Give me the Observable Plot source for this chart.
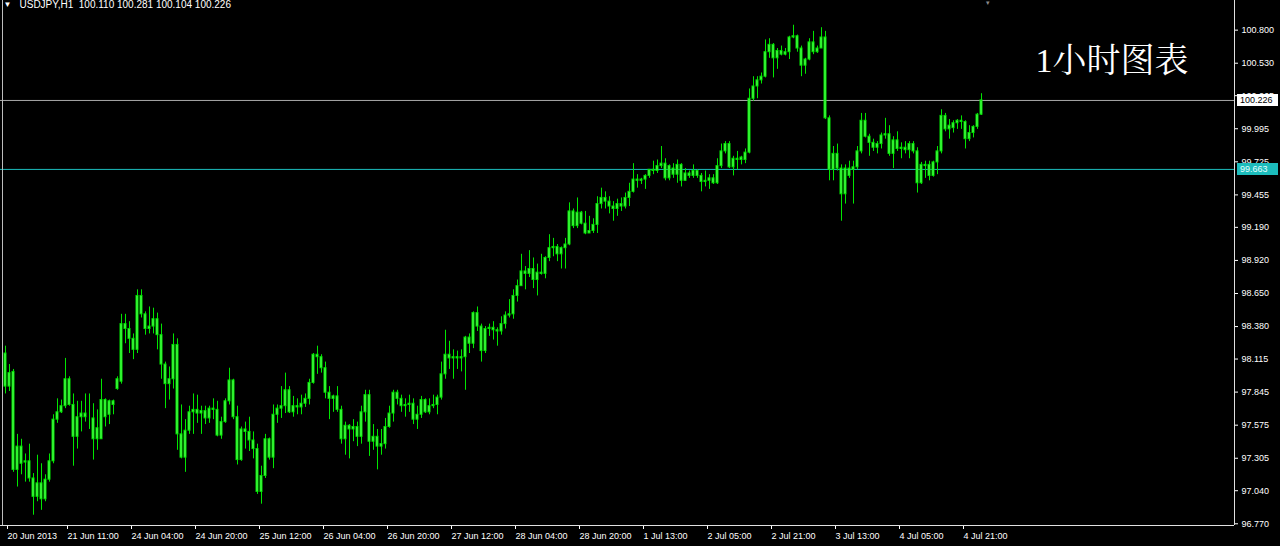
<!DOCTYPE html>
<html><head><meta charset="utf-8">
<script src="https://cdn.jsdelivr.net/npm/d3@7"></script>
<script src="https://cdn.jsdelivr.net/npm/@observablehq/plot@0.6"></script>
<style>
html,body{margin:0;padding:0;background:#000;overflow:hidden}
#chart svg{display:block}
</style></head><body><div id="chart"></div>
<script>
const symbol = "USDJPY,H1";
const titleText = "1小时图表";

const open = [
98.16,97.89,98.01,97.21,97.40,97.27,97.28,97.14,96.99,97.10,
96.97,97.13,97.28,97.62,97.68,97.73,97.95,97.74,97.48,97.64,
97.67,97.64,97.63,97.46,97.46,97.78,97.66,97.74,97.87,97.93,
98.40,98.36,98.28,98.19,98.63,98.48,98.36,98.38,98.44,98.31,
98.07,97.91,97.95,98.23,97.50,97.31,97.53,97.68,97.70,97.67,
97.69,97.63,97.71,97.70,97.49,97.60,97.77,97.94,97.64,97.29,
97.54,97.52,97.45,97.38,97.03,97.16,97.46,97.31,97.66,97.71,
97.73,97.86,97.68,97.73,97.72,97.75,97.79,97.92,98.15,98.13,
98.04,97.84,97.79,97.81,97.70,97.46,97.57,97.54,97.56,97.48,
97.68,97.82,97.44,97.48,97.40,97.42,97.56,97.67,97.84,97.79,
97.73,97.74,97.75,97.62,97.66,97.78,97.68,97.73,97.74,97.80,
97.99,98.15,98.12,98.13,98.12,98.13,98.29,98.24,98.49,98.38,
98.18,98.36,98.37,98.35,98.34,98.40,98.47,98.48,98.63,98.71,
98.83,98.81,98.85,98.76,98.82,98.81,98.94,99.02,99.03,98.97,
99.02,99.05,99.32,99.20,99.31,99.22,99.14,99.16,99.21,99.38,
99.43,99.40,99.36,99.34,99.38,99.36,99.43,99.48,99.58,99.57,
99.58,99.61,99.66,99.65,99.69,99.71,99.59,99.67,99.62,99.70,
99.57,99.63,99.61,99.65,99.61,99.56,99.57,99.59,99.55,99.69,
99.81,99.87,99.68,99.75,99.74,99.74,99.80,100.24,100.34,100.39,
100.42,100.62,100.68,100.57,100.63,100.60,100.62,100.74,100.75,100.65,
100.51,100.56,100.70,100.62,100.65,100.74,100.08,99.66,99.79,99.67,
99.46,99.67,99.66,99.68,99.81,100.06,99.93,99.88,99.84,99.87,
99.94,99.95,99.79,99.90,99.83,99.84,99.82,99.87,99.81,99.55,
99.70,99.70,99.61,99.72,99.81,100.10,99.99,100.00,100.04,100.06,
100.05,99.91,99.96,100.01,100.110];

const high = [
98.22,98.07,98.03,97.50,97.46,97.34,97.42,97.18,97.33,97.26,
97.17,97.34,97.66,97.79,97.78,98.12,97.97,97.83,97.77,97.77,
97.83,97.83,97.75,97.70,97.95,97.79,97.78,97.78,97.97,98.48,
98.48,98.42,98.32,98.68,98.68,98.50,98.54,98.53,98.49,98.40,
98.09,98.05,98.32,98.28,97.74,97.62,97.73,97.83,97.82,97.73,
97.73,97.73,97.79,97.77,97.64,97.79,98.04,97.95,97.73,97.56,
97.60,97.64,97.52,97.42,97.24,97.50,97.47,97.74,97.74,97.89,
98.00,97.89,97.81,97.79,97.82,97.83,97.95,98.16,98.22,98.15,
98.09,97.89,97.82,97.89,97.73,97.60,97.58,97.62,97.60,97.73,
97.86,97.86,97.58,97.54,97.54,97.63,97.73,97.86,97.86,97.82,
97.79,97.82,97.79,97.73,97.81,97.79,97.79,97.82,97.82,98.09,
98.35,98.26,98.19,98.18,98.19,98.30,98.32,98.50,98.54,98.40,
98.38,98.40,98.42,98.37,98.46,98.50,98.60,98.68,98.76,98.97,
98.87,99.00,98.94,98.89,98.97,98.95,99.13,99.10,99.05,99.03,
99.10,99.39,99.34,99.43,99.32,99.32,99.28,99.26,99.44,99.51,
99.48,99.44,99.40,99.42,99.43,99.47,99.55,99.71,99.62,99.59,
99.62,99.66,99.73,99.74,99.85,99.75,99.70,99.71,99.74,99.71,
99.67,99.65,99.70,99.66,99.63,99.65,99.62,99.62,99.75,99.87,
99.89,99.89,99.77,99.81,99.77,99.83,100.32,100.42,100.42,100.45,
100.72,100.73,100.69,100.65,100.67,100.65,100.75,100.84,100.76,100.67,
100.57,100.73,100.79,100.67,100.82,100.79,100.10,99.85,99.87,99.70,
99.70,99.73,99.73,99.85,100.12,100.12,99.95,99.91,99.89,99.96,
100.08,100.02,99.93,99.97,99.88,99.89,99.89,99.89,99.84,99.72,
99.73,99.73,99.73,99.85,100.15,100.12,100.07,100.06,100.07,100.10,
100.06,100.02,100.02,100.12,100.281];

const low = [
97.83,97.85,97.19,97.07,97.17,97.11,97.11,96.84,96.95,96.88,
96.95,97.11,97.26,97.59,97.67,97.71,97.73,97.24,97.38,97.52,
97.60,97.54,97.29,97.37,97.46,97.56,97.58,97.66,97.86,97.91,
98.24,98.16,98.11,98.16,98.45,98.31,98.32,98.32,98.19,97.95,
97.71,97.78,97.87,97.37,97.30,97.19,97.50,97.50,97.59,97.50,
97.58,97.59,97.62,97.48,97.46,97.59,97.74,97.62,97.25,97.28,
97.38,97.36,97.30,97.01,96.93,97.14,97.29,97.22,97.59,97.63,
97.67,97.67,97.64,97.66,97.66,97.72,97.74,97.91,97.99,98.00,
97.79,97.62,97.68,97.68,97.42,97.33,97.30,97.44,97.40,97.42,
97.60,97.32,97.37,97.21,97.33,97.38,97.55,97.60,97.74,97.68,
97.64,97.68,97.58,97.54,97.63,97.67,97.66,97.71,97.66,97.78,
97.95,98.03,97.95,98.03,98.01,97.86,98.16,98.20,98.34,98.09,
98.16,98.30,98.27,98.22,98.31,98.36,98.45,98.44,98.58,98.71,
98.68,98.78,98.69,98.63,98.80,98.77,98.91,98.95,98.91,98.85,
98.85,99.04,99.18,99.18,99.21,99.13,99.14,99.14,99.14,99.34,
99.34,99.30,99.24,99.28,99.32,99.34,99.36,99.47,99.51,99.54,
99.50,99.59,99.62,99.63,99.67,99.57,99.57,99.59,99.55,99.52,
99.57,99.59,99.59,99.59,99.48,99.52,99.50,99.54,99.54,99.67,
99.79,99.67,99.61,99.66,99.70,99.71,99.79,100.22,100.24,100.36,
100.41,100.57,100.41,100.48,100.59,100.59,100.56,100.73,100.62,100.42,
100.44,100.55,100.60,100.61,100.65,100.07,99.57,99.57,99.65,99.24,
99.38,99.59,99.38,99.66,99.79,99.92,99.77,99.81,99.79,99.83,
99.91,99.77,99.67,99.81,99.75,99.79,99.75,99.79,99.47,99.54,
99.59,99.57,99.60,99.62,99.79,99.97,99.91,99.96,99.99,99.99,
99.83,99.89,99.92,99.99,100.104];

const close = [
97.89,98.00,97.21,97.40,97.26,97.28,97.14,96.99,97.10,96.97,
97.13,97.28,97.62,97.68,97.73,97.95,97.74,97.48,97.64,97.67,
97.64,97.64,97.46,97.55,97.78,97.64,97.77,97.77,97.95,98.40,
98.36,98.28,98.19,98.63,98.48,98.36,98.38,98.44,98.31,98.07,
97.91,97.95,98.23,97.50,97.31,97.53,97.68,97.70,97.67,97.69,
97.63,97.71,97.70,97.49,97.60,97.77,97.94,97.64,97.29,97.54,
97.52,97.45,97.38,97.03,97.16,97.46,97.31,97.66,97.71,97.73,
97.86,97.68,97.73,97.72,97.75,97.79,97.92,98.15,98.13,98.04,
97.84,97.79,97.81,97.70,97.46,97.57,97.54,97.56,97.48,97.68,
97.82,97.44,97.48,97.40,97.42,97.56,97.67,97.84,97.79,97.73,
97.74,97.75,97.62,97.66,97.78,97.68,97.73,97.74,97.80,97.99,
98.15,98.12,98.13,98.12,98.13,98.29,98.24,98.49,98.38,98.18,
98.36,98.37,98.35,98.34,98.40,98.47,98.48,98.63,98.71,98.83,
98.81,98.85,98.76,98.82,98.81,98.94,99.02,99.03,98.97,99.02,
99.05,99.32,99.20,99.31,99.22,99.14,99.16,99.21,99.38,99.43,
99.40,99.36,99.34,99.38,99.36,99.43,99.48,99.58,99.57,99.58,
99.61,99.66,99.65,99.69,99.71,99.59,99.69,99.62,99.70,99.57,
99.63,99.61,99.65,99.61,99.56,99.57,99.59,99.55,99.69,99.81,
99.87,99.68,99.75,99.74,99.76,99.80,100.24,100.34,100.39,100.42,
100.62,100.68,100.57,100.63,100.60,100.62,100.74,100.75,100.65,100.51,
100.56,100.70,100.62,100.65,100.74,100.08,99.66,99.79,99.67,99.46,
99.67,99.61,99.68,99.81,100.06,99.93,99.88,99.84,99.87,99.94,
99.95,99.79,99.90,99.83,99.84,99.82,99.87,99.81,99.55,99.70,
99.69,99.61,99.72,99.81,100.10,99.99,100.02,100.04,100.06,100.05,
99.91,99.96,100.01,100.11,100.226];

const timeLabels = ["20 Jun 2013","21 Jun 11:00","24 Jun 04:00","24 Jun 20:00","25 Jun 12:00","26 Jun 04:00","26 Jun 20:00","27 Jun 12:00","28 Jun 04:00","28 Jun 20:00","1 Jul 13:00","2 Jul 05:00","2 Jul 21:00","3 Jul 13:00","4 Jul 05:00","4 Jul 21:00"];
const timeLabelBars = [0,15,31,47,63,79,95,111,127,143,159,175,191,207,223,239];

const priceTicks = [100.800,100.530,100.265,99.995,99.725,99.455,99.190,98.920,98.650,98.380,98.115,97.845,97.575,97.305,97.040,96.770];

const bidPrice = 100.226;
const levelPrice = 99.663;

// ---- build ----
const bars = close.map((c, i) => ({i, o: open[i], h: high[i], l: low[i], c}));
const last = bars[bars.length - 1];
const W = 1280, H = 546;
const M = {top: 0, right: 46, bottom: 21, left: 0};
const xDomain = [-1.25, 307.25];          // includes MT4 chart shift on the right
const yDomain = [96.756, 101.042];
const font = "'Liberation Sans', Arial, sans-serif";
const green = "#00e600";
const bidColor = "#a9a9a9";
const levelColor = "#1cbcbc";

const header = `${symbol}\u00a0\u00a0${last.o.toFixed(3)} ${last.h.toFixed(3)} ${last.l.toFixed(3)} ${last.c.toFixed(3)}`;

const plot = Plot.plot({
  width: W, height: H,
  marginTop: M.top, marginRight: M.right, marginBottom: M.bottom, marginLeft: M.left,
  style: {background: "#000", color: "#fff", fontFamily: font, fontSize: "9px"},
  x: {type: "linear", domain: xDomain},
  y: {type: "linear", domain: yDomain},
  marks: [
    Plot.ruleY([bidPrice], {stroke: bidColor}),
    Plot.ruleY([levelPrice], {stroke: levelColor}),
    Plot.ruleX(bars, {x: "i", y1: "l", y2: "h", stroke: green}),
    Plot.rect(bars, {x1: d => d.i - 0.25, x2: d => d.i + 0.25, y1: "o", y2: "c", fill: "#5cff5c", stroke: green}),
    Plot.axisY(priceTicks, {anchor: "right", tickSize: 3, tickPadding: 4, tickFormat: d => d.toFixed(3), label: null, fontSize: 9}),
    Plot.axisX(timeLabelBars, {anchor: "bottom", tickSize: 4, tickPadding: 3, tickFormat: d => timeLabels[timeLabelBars.indexOf(d)], textAnchor: "start", dx: 2, label: null, fontSize: 9}),
    Plot.ruleX([xDomain[1]], {stroke: "#e0e0e0"}),
    Plot.ruleX([xDomain[0]], {stroke: "#bdbdbd", dx: 2}),
    Plot.ruleY([yDomain[0]], {stroke: "#e0e0e0"}),
    Plot.text(["\u25BC"], {frameAnchor: "top-left", dx: 3, dy: 1, lineAnchor: "top", textAnchor: "start", fill: "#fff", fontSize: 8}),
    Plot.text([header], {frameAnchor: "top-left", dx: 19, dy: 0, lineAnchor: "top", textAnchor: "start", fill: "#fff", fontSize: 10}),
    Plot.text([0], {x: () => bars.length + 0.5, frameAnchor: "top", lineAnchor: "top", dy: 0, text: () => "\u25BE", fill: "#8a8a8a", fontSize: 7}),
    Plot.text([titleText], {frameAnchor: "top-right", dx: -46, dy: 61, lineAnchor: "middle", textAnchor: "end", fill: "#fff", fontSize: 34, fontFamily: "'Liberation Serif','Noto Serif CJK SC','Noto Sans CJK SC',serif"})
  ]
});

// price tags on the right scale (positioned through the plot's y scale)
const ys = plot.scale("y");
const svg = d3.select(plot);
const tagX = W - M.right + 3;
[[bidPrice, "#ffffff", "#000000"], [levelPrice, levelColor, "#e6ffff"]].forEach(([v, bg, fg]) => {
  const yy = Math.round(ys.apply(v));
  const g = svg.append("g").attr("text-anchor", "start");
  g.append("rect").attr("x", tagX).attr("y", yy - 6).attr("width", W - tagX - 2).attr("height", 12).attr("fill", bg);
  g.append("text").attr("x", tagX + 3).attr("y", yy).attr("dy", "0.35em").attr("text-anchor", "start")
    .attr("fill", fg).attr("font-size", 9).attr("font-family", font).text(v.toFixed(3));
});

document.getElementById("chart").append(plot);
</script>
</body></html>
